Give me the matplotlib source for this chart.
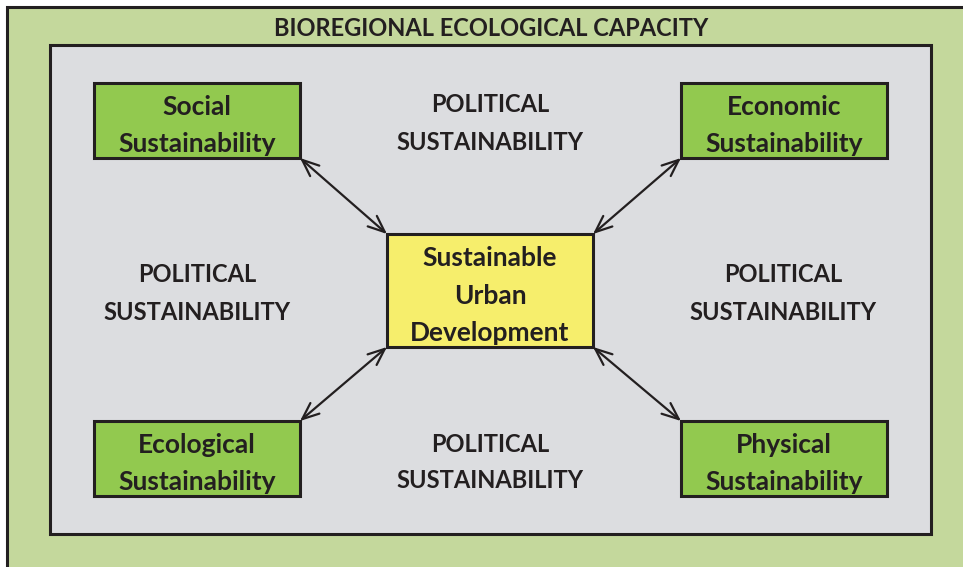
import matplotlib
matplotlib.use("Agg")
import matplotlib.pyplot as plt
from matplotlib.patches import Rectangle, FancyArrowPatch

title = "BIOREGIONAL ECOLOGICAL CAPACITY"
center_label = ["Sustainable", "Urban", "Development"]
corner_labels = [["Social", "Sustainability"], ["Economic", "Sustainability"],
                 ["Ecological", "Sustainability"], ["Physical", "Sustainability"]]
political_label = ["POLITICAL", "SUSTAINABILITY"]

W, H = 963, 567
fig = plt.figure(figsize=(W / 100, H / 100), dpi=100)
ax = fig.add_axes([0, 0, 1, 1])
ax.set_xlim(0, W)
ax.set_ylim(H, 0)
ax.axis("off")
fig.patch.set_facecolor("white")

FONT = "Lato"
EDGE = "#231f20"
TXT = "#231f20"
CAPS = 17
MIXED = 19
DY = 3

# outer green frame (border on left/top only visible)
ax.add_patch(Rectangle((7, 7), 1100, 700, facecolor="#c4d89c", edgecolor=EDGE, lw=2.2))
# inner grey area
ax.add_patch(Rectangle((50, 45), 881, 489, facecolor="#dcdde0", edgecolor=EDGE, lw=2.2))

ax.text(491, 27 + 1, title, ha="center", va="center", fontsize=CAPS, fontweight="bold",
        family=FONT, color=TXT)

boxes = [(94, 83), (681, 83), (94, 421), (681, 421)]
bw, bh = 206, 75
for (x, y), lab in zip(boxes, corner_labels):
    ax.add_patch(Rectangle((x, y), bw, bh, facecolor="#92c94f", edgecolor=EDGE, lw=2.2, zorder=3))
    ax.text(x + bw / 2, y + 21 + DY, lab[0], ha="center", va="center", fontsize=MIXED,
            fontweight="bold", family=FONT, color=TXT, zorder=4)
    ax.text(x + bw / 2, y + 58 + DY, lab[1], ha="center", va="center", fontsize=MIXED,
            fontweight="bold", family=FONT, color=TXT, zorder=4)

cx0, cy0, cx1, cy1 = 387, 234, 593, 347
ax.add_patch(Rectangle((cx0, cy0), cx1 - cx0, cy1 - cy0, facecolor="#f6ee6c",
                       edgecolor=EDGE, lw=2.2, zorder=3))
for i, t in enumerate(center_label):
    ax.text(490, 255 + DY + i * 37.5, t, ha="center", va="center", fontsize=MIXED,
            fontweight="bold", family=FONT, color=TXT, zorder=4)

for (px, py) in [(490, 104), (197, 274), (783, 274), (490, 443)]:
    ax.text(px, py + 1, political_label[0], ha="center", va="center", fontsize=CAPS,
            fontweight="bold", family=FONT, color=TXT)
    ax.text(px, py + 38, political_label[1], ha="center", va="center", fontsize=CAPS,
            fontweight="bold", family=FONT, color=TXT)

arrows = [((300, 158), (cx0, cy0)), ((681, 158), (cx1, cy0)),
          ((300, 421), (cx0, cy1)), ((681, 421), (cx1, cy1))]
for a, b in arrows:
    ax.add_patch(FancyArrowPatch(a, b, arrowstyle="<->,head_length=12,head_width=5",
                                 mutation_scale=1, lw=1.6, color=EDGE,
                                 shrinkA=0, shrinkB=0, zorder=5))

fig.savefig("out.png", dpi=100)
